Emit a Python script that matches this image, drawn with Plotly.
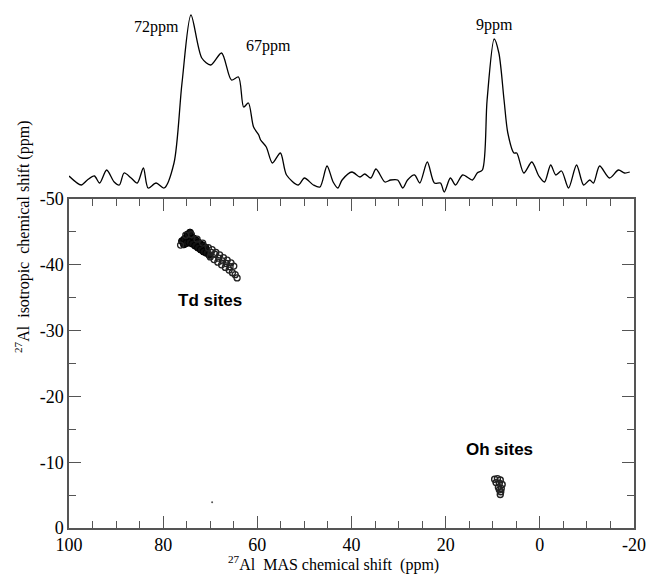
import plotly.graph_objects as go

# 1D projection spectrum (MAS dimension), arbitrary intensity
spec_ppm = [100.0, 97.4, 96.1, 94.6, 93.5, 92.0, 90.4, 89.3, 88.3, 86.8, 85.5, 84.2, 83.2, 81.5, 79.8,
            77.7, 76.0, 74.1, 71.8, 69.9, 67.6, 65.5, 64.0, 62.9, 61.9, 60.8, 59.7, 59.3, 58.1, 56.8,
            55.1, 53.8, 51.3, 50.0, 48.1, 46.7, 45.2, 43.9, 42.9, 42.0, 39.9, 38.2, 37.2, 35.9, 34.8,
            32.9, 31.7, 30.2, 29.1, 28.1, 26.6, 25.5, 23.9, 22.4, 21.1, 20.3, 19.0, 17.9, 16.4, 14.3,
            13.3, 12.2, 11.2, 9.7, 8.7, 7.6, 6.8, 5.5, 4.9, 3.4, 1.7, 0.2, -1.0, -2.3, -3.4,
            -4.6, -6.1, -7.8, -9.3, -10.6, -11.4, -12.7, -14.8, -16.7, -18.0, -19.1]
spec_int = [24, 15, 20, 24, 17, 30, 18, 15, 27, 22, 17, 32, 12, 17, 12,
            37, 117, 185, 142, 135, 147, 120, 123, 93, 97, 73, 65, 60, 53, 37,
            47, 25, 15, 22, 15, 13, 34, 18, 12, 20, 28, 23, 26, 22, 31,
            18, 20, 20, 12, 20, 25, 17, 38, 17, 17, 8, 22, 15, 25, 20,
            27, 30, 100, 161, 147, 100, 67, 47, 47, 27, 38, 24, 18, 35, 25,
            29, 12, 35, 15, 20, 17, 34, 22, 30, 27, 28]

# 2D contour features (MAS shift, isotropic shift) - dense core of Td band
td_core_mas = [76.0, 75.5, 75.0, 74.5, 74.0, 73.5, 73.0, 72.5, 72.0, 71.5, 71.0,
               75.6, 75.0, 74.4, 73.8, 73.2, 72.6, 72.0, 71.4, 70.8, 70.2,
               74.8, 74.3]
td_core_iso = [-43.6, -43.9, -44.2, -44.4, -44.2, -44.0, -43.7, -43.4, -43.1, -42.9, -42.6,
               -43.1, -43.3, -43.4, -43.2, -42.9, -42.6, -42.3, -42.0, -41.8, -41.5,
               -44.6, -44.9]
# outer ring-like contours of the Td band
td_mas = [76.3, 75.2, 74.0, 72.8, 71.6, 70.4, 69.6, 68.8, 68.0, 67.2, 66.4, 65.6, 65.0,
          70.0, 69.2, 68.4, 67.6, 66.8, 66.0, 65.3, 64.7,
          69.8, 69.0, 68.2, 67.4, 66.6, 65.8, 64.3]
td_iso = [-43.0, -44.5, -44.6, -43.9, -43.3, -42.6, -42.3, -41.9, -41.5, -41.1, -40.7, -40.3, -39.8,
          -41.2, -40.8, -40.4, -40.0, -39.6, -39.2, -38.8, -38.5,
          -41.9, -41.6, -41.0, -40.6, -40.2, -39.7, -38.0]
oh_mas = [9.6, 9.0, 8.4, 9.3, 8.6, 8.0, 8.8, 8.2, 8.6, 8.3, 8.4]
oh_iso = [-7.4, -7.5, -7.3, -6.9, -6.8, -6.6, -6.2, -6.0, -5.8, -5.5, -5.1]
speck_mas = [69.6]
speck_iso = [-3.9]

x_ticks = [100, 80, 60, 40, 20, 0, -20]
y_ticks = [-50, -40, -30, -20, -10, 0]

serif = "Liberation Serif, Times New Roman, serif"
sans = "Liberation Sans, Arial, sans-serif"

fig = go.Figure()
fig.add_trace(go.Scatter(x=spec_ppm, y=spec_int, mode="lines", xaxis="x2", yaxis="y2",
                         line=dict(color="black", width=1.3, shape="spline", smoothing=0.8),
                         showlegend=False, hoverinfo="skip"))
fig.add_trace(go.Scatter(x=td_core_mas, y=td_core_iso, mode="markers",
                         marker=dict(symbol="circle", size=7, color="#111", line=dict(width=1, color="black")),
                         showlegend=False))
fig.add_trace(go.Scatter(x=td_mas, y=td_iso, mode="markers",
                         marker=dict(symbol="circle-open", size=6, color="#222", line=dict(width=1.3)),
                         showlegend=False))
fig.add_trace(go.Scatter(x=oh_mas, y=oh_iso, mode="markers",
                         marker=dict(symbol="circle-open", size=6, color="#222", line=dict(width=1.4)),
                         showlegend=False))
fig.add_trace(go.Scatter(x=speck_mas, y=speck_iso, mode="markers",
                         marker=dict(symbol="circle", size=2, color="#555"),
                         showlegend=False))

L, R, B, TOPPLOT = 69, 634, 528, 199
W = R - L
H = B
split = (B - TOPPLOT) / H

axis_common = dict(showline=True, linecolor="#555", linewidth=1.5, mirror="allticks",
                   ticks="inside", ticklen=12, tickwidth=1.3, tickcolor="#555",
                   showgrid=False, zeroline=False, automargin=False,
                   tickfont=dict(family=serif, size=18, color="black"))

fig.update_layout(
    width=650, height=577,
    margin=dict(l=L, r=650 - R, t=0, b=577 - B, autoexpand=False),
    paper_bgcolor="white", plot_bgcolor="white",
    xaxis=dict(range=[100, -20], tickvals=x_ticks, ticktext=[str(v) for v in x_ticks],
               minor=dict(dtick=5, ticklen=7, ticks="inside", tickcolor="#555", tickwidth=1.2),
               anchor="y", **axis_common),
    xaxis2=dict(range=[100, -20], matches="x", anchor="y2", visible=False),
    yaxis=dict(range=[0, -50], domain=[0, split], tickvals=y_ticks, ticktext=[str(v) for v in y_ticks],
               minor=dict(dtick=5, ticklen=7, ticks="inside", tickcolor="#555", tickwidth=1.2),
               anchor="x", **axis_common),
    yaxis2=dict(range=[1, 200], domain=[split, 1], anchor="x2", visible=False),
    annotations=[
        dict(x=81.5, y=173, xref="x2", yref="y2", text="72ppm", showarrow=False,
             font=dict(family=serif, size=16, color="black")),
        dict(x=57.6, y=154, xref="x2", yref="y2", text="67ppm", showarrow=False,
             font=dict(family=serif, size=16, color="black")),
        dict(x=9.7, y=175, xref="x2", yref="y2", text="9ppm", showarrow=False,
             font=dict(family=serif, size=16, color="black")),
        dict(x=70.0, y=-34.6, xref="x", yref="y", text="<b>Td sites</b>", showarrow=False,
             font=dict(family=sans, size=17, color="black")),
        dict(x=8.6, y=-11.9, xref="x", yref="y", text="<b>Oh sites</b>", showarrow=False,
             font=dict(family=sans, size=17, color="black")),
        dict(x=(333 - L) / W, y=-(577 - B) / H, xref="paper", yref="paper",
             text="<sup>27</sup>Al  MAS chemical shift  (ppm)", showarrow=False,
             font=dict(family=serif, size=16, color="black"), yanchor="bottom", yshift=1),
        dict(x=-(L - 22) / W, y=(B - 355) / H, xref="paper", yref="paper",
             text="<sup>27</sup>Al  isotropic  chemical shift (ppm)", showarrow=False,
             textangle=-90, font=dict(family=serif, size=16, color="black"), xanchor="center"),
    ],
)

fig.write_html("out.html", config={"displayModeBar": False},
               post_script="document.body.style.margin='0';document.body.style.overflow='hidden';")
